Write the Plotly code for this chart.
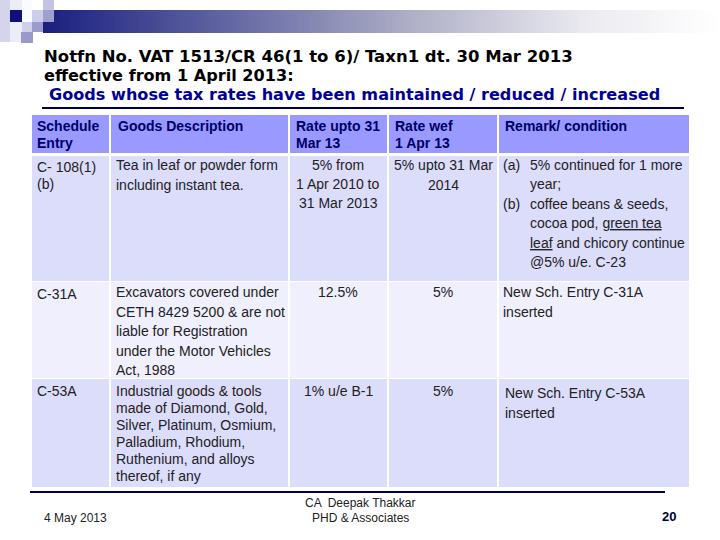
import numpy as np
import plotly.graph_objects as go

# title lines
title_lines = ["Notfn No. VAT 1513/CR 46(1 to 6)/ Taxn1 dt. 30 Mar 2013", "effective from 1 April 2013:"]
subtitle = "Goods whose tax rates have been maintained / reduced / increased"

# table text, one list per column
schedule = ["C- 108(1)<br>(b)", "C-31A", "C-53A"]
goods = [
    ["Tea in leaf or powder form", "including instant tea."],
    ["Excavators covered under", "CETH 8429 5200 & are not", "liable for Registration", "under the Motor Vehicles", "Act, 1988"],
    ["Industrial goods & tools", "made of Diamond, Gold,", "Silver, Platinum, Osmium,", "Palladium, Rhodium,", "Ruthenium, and alloys", "thereof, if any"],
]
rate_old = [["5% from", "1 Apr 2010 to", "31 Mar 2013"], ["12.5%"], ["1% u/e B-1"]]
rate_new = [["5% upto 31 Mar", "2014"], ["5%"], ["5%"]]
remark_rows = [["New Sch. Entry C-31A", "inserted"], ["New Sch. Entry C-53A", "inserted"]]
remark_first = [
    ("(a)", "5% continued for 1 more"),
    ("", "year;"),
    ("(b)", "coffee beans & seeds,"),
    ("", "cocoa pod, <u>green tea</u>"),
    ("", "<u>leaf</u> and chicory continue"),
    ("", "@5% u/e. C-23"),
]
headers = ["Schedule<br>Entry", "Goods Description", "Rate upto 31<br>Mar 13", "Rate wef<br>1 Apr 13", "Remark/ condition"]
footer_date = "4 May 2013"
footer_mid = ["CA  Deepak Thakkar", "PHD & Associates"]
page_no = "20"

HEAD = "#9999ff"
ROW_DARK = "#dcdcfb"
ROW_LIGHT = "#efeffd"
FONT = "Liberation Sans"
TITLE_FONT = "DejaVu Sans"

col_x = [31, 110, 289, 388, 498, 690]
row_y = [115, 153, 281, 378, 487]

fig = go.Figure()
shapes = []
notes = []


def rect(x0, y0, x1, y1, color, layer="below"):
    shapes.append(dict(type="rect", x0=x0, y0=y0, x1=x1, y1=y1, fillcolor=color, line_width=0, layer=layer))


def text(x, y, s, size=14, color="#222222", anchor="left", bold=False, family=FONT):
    if bold:
        s = "<b>" + s + "</b>"
    # annotations pad about 2px on the left
    if anchor == "left":
        x = x - 2
    notes.append(dict(x=x, y=y, text=s, xref="x", yref="y", showarrow=False, xanchor=anchor, yanchor="middle",
                      align=anchor, font=dict(size=size, color=color, family=family)))


# banner gradient
fig.add_trace(go.Heatmap(
    z=[np.linspace(0, 1, 200)], x=np.linspace(43, 720, 201), y=[10, 33],
    colorscale=[[0, "#1a1f80"], [0.3, "#6a6ea5"], [0.55, "#b0b0c8"], [0.8, "#eaeaf0"], [1, "#ffffff"]],
    showscale=False, hoverinfo="skip"))

# corner squares
rect(0, 0, 10, 42, "#d4d4ec")
rect(10, 0, 22, 42, "#ececf8")
rect(22, 0, 32, 22, "#fafaff")
rect(43, 0, 54, 10, "#c4c4e2")
rect(32, 10, 43, 22, "#ccccec")
rect(43, 10, 54, 22, "#a0a0cc", layer="above")
rect(10, 10, 22, 22, "#10107a")
rect(22, 22, 32, 32, "#d0d0ea")
rect(32, 22, 43, 32, "#9c9ccc")
rect(21, 32, 33, 43, "#9a9ac8")

# table cells
for c in range(5):
    rect(col_x[c] + 1, row_y[0], col_x[c + 1] - 1, row_y[1], HEAD)
    for r in range(3):
        rect(col_x[c] + 1, row_y[r + 1] + 3 if r == 0 else row_y[r + 1] + 1, col_x[c + 1] - 1, row_y[r + 2],
             ROW_LIGHT if r == 1 else ROW_DARK)

# rules
for y0, x0, x1, w in [(108, 42, 684, 2), (492, 30, 665, 2)]:
    shapes.append(dict(type="line", x0=x0, x1=x1, y0=y0, y1=y0, line=dict(color="#000044", width=w)))

# title
text(44, 56, title_lines[0], size=16.5, color="#000000", bold=True, family=TITLE_FONT)
text(44, 75, title_lines[1], size=16.1, color="#000000", bold=True, family=TITLE_FONT)
text(49, 94, subtitle, size=16.1, color="#000099", bold=True, family=TITLE_FONT)

# header text
head_x = [37, 118, 296, 395, 505]
for x, h in zip(head_x, headers):
    lines = h.split("<br>")
    for i, ln in enumerate(lines):
        text(x, 126 + i * 17, ln, color="#000066", bold=True)

# first column
text(37, 167, schedule[0].split("<br>")[0])
text(37, 184, schedule[0].split("<br>")[1])
text(37, 294, schedule[1])
text(37, 391, schedule[2])

# goods
goods_y = [(165, 19.5), (292, 19.5), (391, 16.9)]
for lines, (y0, dy) in zip(goods, goods_y):
    for i, ln in enumerate(lines):
        text(116, y0 + i * dy, ln)

# rates
rate_y = [165, 292, 391]
for lines, y0 in zip(rate_old, rate_y):
    for i, ln in enumerate(lines):
        text(338, y0 + i * 19, ln, anchor="center")
for lines, y0 in zip(rate_new, rate_y):
    for i, ln in enumerate(lines):
        text(443, y0 + i * 19.5, ln, anchor="center")

# remarks
for i, (tag, ln) in enumerate(remark_first):
    y = 165 + i * 19.4
    if tag:
        text(503, y, tag)
    text(530, y, ln)
for lines, y0, x in zip(remark_rows, [292, 393], [503, 505]):
    for i, ln in enumerate(lines):
        text(x, y0 + i * 19.5, ln)

# footer
text(44, 518, footer_date, size=12)
text(360, 503, footer_mid[0], size=12, anchor="center")
text(360, 518, footer_mid[1], size=12, anchor="center")
text(669, 516, page_no, size=13, color="#000033", anchor="center", bold=True)

fig.update_layout(
    width=720, height=540, margin=dict(l=0, r=0, t=0, b=0),
    paper_bgcolor="white", plot_bgcolor="white", showlegend=False,
    xaxis=dict(range=[0, 720], visible=False, fixedrange=True),
    yaxis=dict(range=[540, 0], visible=False, fixedrange=True),
    shapes=shapes, annotations=notes,
)

# body margin off so the slide sits at the window corner
fig.write_html("out.html", config=dict(displayModeBar=False), post_script="document.body.style.margin='0';")
